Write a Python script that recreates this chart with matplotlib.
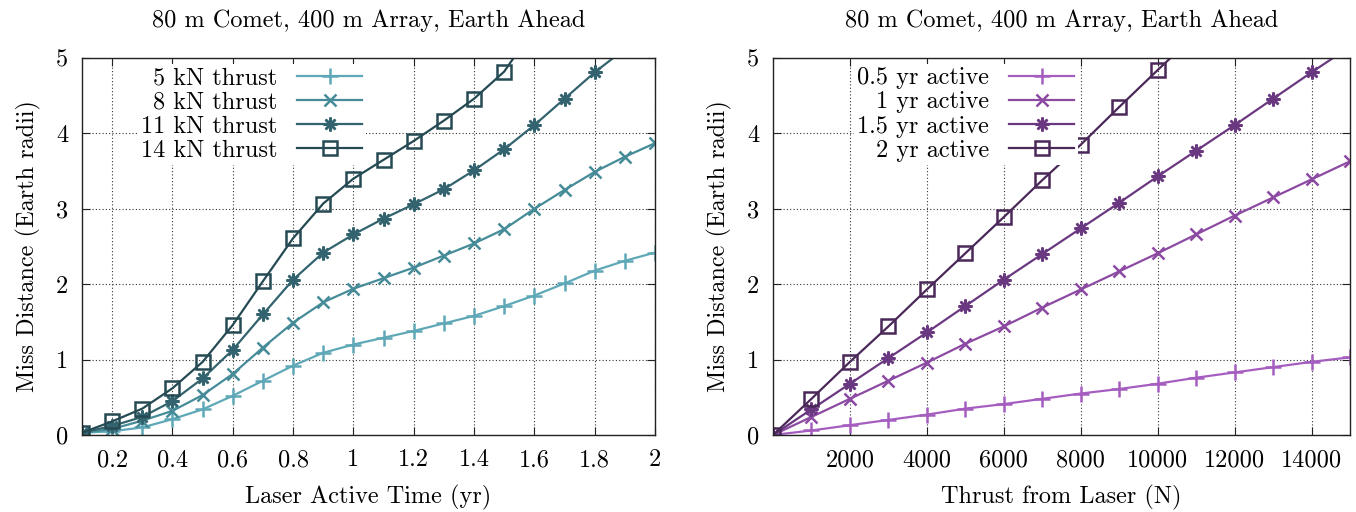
import matplotlib
matplotlib.use("Agg")
import matplotlib.pyplot as plt

plt.rcParams['font.family'] = ['cmr10', 'DejaVu Serif']
plt.rcParams['axes.formatter.use_mathtext'] = True
plt.rcParams['axes.unicode_minus'] = False

# ---------------- data: left panel ----------------
title_text = "80 m Comet, 400 m Array, Earth Ahead"
ylabel_text = "Miss Distance (Earth radii)"
left_xlabel = "Laser Active Time (yr)"
right_xlabel = "Thrust from Laser (N)"

active_time = [0.1, 0.2, 0.3, 0.4, 0.5, 0.6, 0.7, 0.8, 0.9, 1.0,
               1.1, 1.2, 1.3, 1.4, 1.5, 1.6, 1.7, 1.8, 1.9, 2.0]
miss_5kN = [0.03, 0.05, 0.10, 0.21, 0.34, 0.52, 0.72, 0.92, 1.09, 1.20,
            1.29, 1.38, 1.48, 1.58, 1.71, 1.85, 2.01, 2.18, 2.31, 2.42]
miss_8kN = [0.03, 0.08, 0.19, 0.32, 0.53, 0.81, 1.16, 1.49, 1.76, 1.94,
            2.08, 2.22, 2.38, 2.54, 2.73, 3.00, 3.25, 3.49, 3.69, 3.87]
miss_11kN = [0.03, 0.12, 0.24, 0.45, 0.75, 1.13, 1.60, 2.06, 2.42, 2.66,
             2.87, 3.06, 3.26, 3.51, 3.79, 4.11, 4.46, 4.81, 5.12]
miss_14kN = [0.03, 0.18, 0.35, 0.62, 0.97, 1.46, 2.04, 2.61, 3.07, 3.40,
             3.65, 3.90, 4.17, 4.46, 4.82, 5.40]
left_labels = ["5 kN thrust", "8 kN thrust", "11 kN thrust", "14 kN thrust"]
left_xticks = [0.2, 0.4, 0.6, 0.8, 1.0, 1.2, 1.4, 1.6, 1.8, 2.0]
left_xticklabels = ["0.2", "0.4", "0.6", "0.8", "1", "1.2", "1.4", "1.6", "1.8", "2"]

# ---------------- data: right panel ----------------
thrust = [0, 1000, 2000, 3000, 4000, 5000, 6000, 7000, 8000,
          9000, 10000, 11000, 12000, 13000, 14000, 15000]
miss_05yr = [0.0, 0.06, 0.13, 0.20, 0.27, 0.35, 0.41, 0.48, 0.55,
             0.61, 0.68, 0.76, 0.83, 0.90, 0.97, 1.03]
miss_1yr = [0.0, 0.24, 0.48, 0.72, 0.96, 1.21, 1.44, 1.69, 1.93,
            2.17, 2.41, 2.66, 2.91, 3.15, 3.39, 3.63]
miss_15yr = [0.0, 0.34, 0.68, 1.02, 1.36, 1.71, 2.06, 2.40, 2.74,
             3.08, 3.43, 3.77, 4.11, 4.46, 4.81, 5.15]
miss_2yr = [0.0, 0.48, 0.97, 1.44, 1.93, 2.41, 2.89, 3.38, 3.85,
            4.35, 4.84, 5.32]
right_labels = ["0.5 yr active", "1 yr active", "1.5 yr active", "2 yr active"]
right_xticks = [2000, 4000, 6000, 8000, 10000, 12000, 14000]
right_xticklabels = ["2000", "4000", "6000", "8000", "10000", "12000", "14000"]

yticks = [0, 1, 2, 3, 4, 5]
yticklabels = ["0", "1", "2", "3", "4", "5"]

left_colors = ["#5fa8b7", "#468c98", "#33636e", "#254a53"]
right_colors = ["#a55ec0", "#8c4aa2", "#6a3880", "#4a2858"]

asterisk = (8, 2, 0)
markers = ['+', 'x', asterisk, 's']
msizes = [11, 9, 10, 10]

FS = 17.5

fig = plt.figure(figsize=(13.56, 5.12), dpi=100)
axL = fig.add_axes([82/1356, 1-435/512, (655-82)/1356, (435-58)/512])
axR = fig.add_axes([773/1356, 1-435/512, (1350-773)/1356, (435-58)/512])


def style(ax):
    ax.set_ylim(0, 5)
    ax.set_yticks(yticks)
    ax.set_yticklabels(yticklabels)
    ax.grid(True, linestyle=(0, (1, 2)), color='#333333', linewidth=0.8)
    ax.tick_params(direction='in', top=True, right=True, length=6,
                   width=0.8, labelsize=FS, color='#222222')
    ax.tick_params(axis='x', pad=10)
    ax.tick_params(axis='y', pad=10)
    for s in ax.spines.values():
        s.set_linewidth(1.0)
        s.set_color('#222222')
    ax.set_title(title_text, fontsize=FS, pad=22)
    ax.set_ylabel(ylabel_text, fontsize=FS, labelpad=11)


series_L = [miss_5kN, miss_8kN, miss_11kN, miss_14kN]
for ys, lab, c, m, ms in zip(series_L, left_labels, left_colors, markers, msizes):
    axL.plot(active_time[:len(ys)], ys, color=c, marker=m, markersize=ms,
             markerfacecolor='none', markeredgecolor=c, markeredgewidth=1.8,
             linewidth=1.6, label=lab, clip_on=True)
axL.set_xlim(0.1, 2.0)
axL.set_xticks(left_xticks)
axL.set_xticklabels(left_xticklabels)
style(axL)
axL.set_xlabel(left_xlabel, fontsize=FS, labelpad=10)

series_R = [miss_05yr, miss_1yr, miss_15yr, miss_2yr]
for ys, lab, c, m, ms in zip(series_R, right_labels, right_colors, markers, msizes):
    axR.plot(thrust[:len(ys)], ys, color=c, marker=m, markersize=ms,
             markerfacecolor='none', markeredgecolor=c, markeredgewidth=1.8,
             linewidth=1.6, label=lab, clip_on=True)
axR.set_xlim(0, 15000)
axR.set_xticks(right_xticks)
axR.set_xticklabels(right_xticklabels)
style(axR)
axR.set_xlabel(right_xlabel, fontsize=FS, labelpad=10)


def legend(ax, xanchor):
    leg = ax.legend(loc='upper right', bbox_to_anchor=(xanchor, 0.985),
                    markerfirst=False, fontsize=FS, frameon=True,
                    fancybox=False, framealpha=1.0, edgecolor='none',
                    facecolor='white', handlelength=2.7, handletextpad=0.8,
                    labelspacing=0.08, borderpad=0.15, borderaxespad=0.0)
    leg.set_zorder(5)
    return leg


legend(axL, (366-82)/573)
legend(axR, (1078-773)/577)

fig.savefig("out.png", dpi=100)
